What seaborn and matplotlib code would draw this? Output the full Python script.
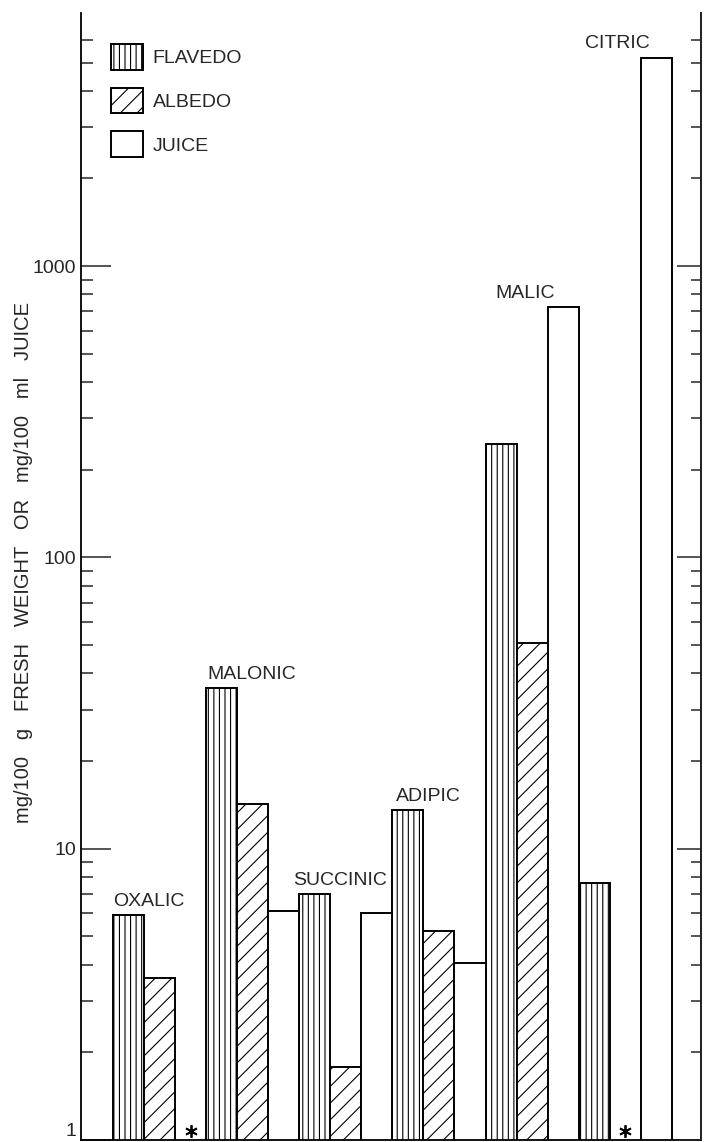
import numpy as np
import pandas as pd
import matplotlib
matplotlib.use("Agg")
import matplotlib.pyplot as plt
from matplotlib.patches import Patch
from matplotlib.ticker import FixedLocator, FixedFormatter, NullFormatter
import seaborn as sns

# ---------------- data ----------------
acids = ["OXALIC", "MALONIC", "SUCCINIC", "ADIPIC", "MALIC", "CITRIC"]
tissues = ["FLAVEDO", "ALBEDO", "JUICE"]
flavedo = [5.9, 35.5, 7.0, 13.6, 245.0, 7.6]
albedo = [3.6, 14.2, 1.78, 5.2, 51.0, np.nan]
juice = [np.nan, 6.1, 6.0, 4.05, 726.0, 5200.0]
major_ticks = [1, 10, 100, 1000]
major_labels = ["1", "10", "100", "1000"]
minor_ticks = [2, 3, 4, 5, 6, 7, 8, 9,
               20, 30, 40, 50, 60, 70, 80, 90,
               200, 300, 400, 500, 600, 700, 800, 900,
               2000, 3000, 4000, 5000, 6000]
ylabel = "mg/100   g   FRESH   WEIGHT   OR   mg/100   ml   JUICE"

# layout (not data)
label_dx = [0.66, 0.96, 0.81, 0.66, 0.78, 0.74]
hatches = {"FLAVEDO": "|||", "ALBEDO": "//", "JUICE": ""}

rows = []
for i, a in enumerate(acids):
    for j, (t, vals) in enumerate(zip(tissues, [flavedo, albedo, juice])):
        rows.append(dict(slot=3 * i + j, acid=a, tissue=t, value=vals[i]))
df = pd.DataFrame(rows)
present = df.dropna()
missing = df[df["value"].isna()]

# ---------------- style ----------------
sns.set_style("ticks")
plt.rcParams["font.family"] = ["Liberation Sans", "DejaVu Sans"]
plt.rcParams["hatch.linewidth"] = 0.8
plt.rcParams["hatch.color"] = "black"

fig = plt.figure(figsize=(7.09, 11.42), dpi=100)
ax = fig.add_axes([0.1142, 0.00175, 0.8745, 0.98687])

sns.barplot(data=present, x="slot", y="value", hue="tissue",
            hue_order=tissues, order=list(range(18)), dodge=False, width=1,
            palette={t: "white" for t in tissues}, edgecolor="black",
            linewidth=1.4, errorbar=None, legend=False, ax=ax, log_scale=True)
# make bars that start at zero render on the log axis
ax.set_yscale("log", nonpositive="clip")

for p in ax.patches:
    slot = int(round(p.get_x() + p.get_width() / 2))
    p.set_hatch(hatches[tissues[slot % 3]])

# asterisks for not-detected values
ax.plot(missing["slot"], [1.07] * len(missing), linestyle="none",
        marker=(6, 2, 0), markersize=9, markeredgewidth=1.3, color="black")

# acid labels
for i, a in enumerate(acids):
    top = np.nanmax([flavedo[i], albedo[i], juice[i]])
    ax.text(3 * i + label_dx[i], top * 1.075, a, ha="center", va="baseline",
            fontsize=14)

ax.set_ylim(1, 7400)
ax.set_xlim(-1.53, 18.44)
ax.set_xticks([])
ax.set_xlabel("")

ax.yaxis.set_major_locator(FixedLocator(major_ticks))
ax.yaxis.set_major_formatter(FixedFormatter(major_labels))
ax.yaxis.set_minor_locator(FixedLocator(minor_ticks))
ax.yaxis.set_minor_formatter(NullFormatter())
ax.tick_params(axis="y", which="major", direction="in", length=21.5,
               width=1.1, labelsize=14, pad=3.6, right=False)
ax.tick_params(axis="y", which="minor", direction="in", length=8.6,
               width=1.1, right=False)
ax.yaxis.get_major_ticks()[0].label1.set_verticalalignment("bottom")
ax.set_ylabel(ylabel, fontsize=14.5)
ax.yaxis.set_label_coords(-0.0774, 0.512)

for s in ["left", "bottom", "right"]:
    ax.spines[s].set_linewidth(1.3)
    ax.spines[s].set_color("black")
ax.spines["top"].set_visible(False)

# right-hand tick marks
ax2 = ax.twinx()
ax2.set_yscale("log")
ax2.set_ylim(ax.get_ylim())
ax2.yaxis.set_major_locator(FixedLocator(major_ticks))
ax2.yaxis.set_minor_locator(FixedLocator(minor_ticks))
ax2.yaxis.set_major_formatter(NullFormatter())
ax2.yaxis.set_minor_formatter(NullFormatter())
ax2.tick_params(axis="y", which="major", direction="in", length=17.3, width=1.1)
ax2.tick_params(axis="y", which="minor", direction="in", length=7.2, width=1.1)
for s in ["left", "bottom", "top"]:
    ax2.spines[s].set_visible(False)
ax2.spines["right"].set_linewidth(1.3)

handles = [Patch(facecolor="white", edgecolor="black", hatch=hatches[t],
                 linewidth=1.4) for t in tissues]
ax.legend(handles, tissues, loc="upper left", bbox_to_anchor=(0.048, 0.9725),
          frameon=False, borderpad=0, borderaxespad=0, handlelength=1.65,
          handleheight=1.65, labelspacing=0.93, handletextpad=0.5, fontsize=14)

fig.savefig("out.png", dpi=100)
